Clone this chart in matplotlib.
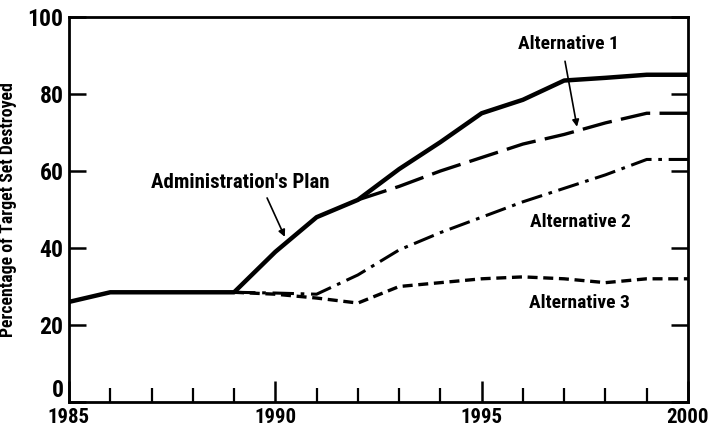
import matplotlib
matplotlib.use("Agg")
import matplotlib.pyplot as plt

years_admin = [1985, 1986, 1987, 1988, 1989, 1990, 1991, 1992, 1993, 1994, 1995, 1996, 1997, 1998, 1999, 2000]
admin = [26, 28.5, 28.5, 28.5, 28.5, 39, 48, 52.5, 60.5, 67.5, 75, 78.5, 83.5, 84.2, 85, 85]
years_alt1 = [1992, 1993, 1994, 1995, 1996, 1997, 1998, 1999, 2000]
alt1 = [52.5, 56, 60, 63.5, 67, 69.5, 72.5, 75, 75]
years_alt2 = [1989, 1990, 1991, 1992, 1993, 1994, 1995, 1996, 1997, 1998, 1999, 2000]
alt2 = [28.5, 28.3, 28, 33, 39.5, 44, 48, 52, 55.5, 59, 63, 63]
years_alt3 = [1989, 1990, 1991, 1992, 1993, 1994, 1995, 1996, 1997, 1998, 1999, 2000]
alt3 = [28.5, 28, 27, 25.7, 30, 31, 32, 32.5, 32, 31, 32, 32]
xticks = [1985, 1990, 1995, 2000]
yticks = [0, 20, 40, 60, 80, 100]

plt.rcParams['font.family'] = ['Roboto Condensed', 'PT Sans Narrow', 'DejaVu Sans']
plt.rcParams['font.weight'] = 'bold'

fig = plt.figure(figsize=(7.14, 4.32), dpi=100)
ax = fig.add_axes([69/714, 1 - 402/432, (688-69)/714, (402-17)/432])
ax.set_xlim(1985, 2000)
ax.set_ylim(0, 100)

ax.plot(years_admin, admin, color='black', lw=3.2, solid_joinstyle='round', zorder=4)
ax.plot(years_alt1, alt1, color='black', lw=2.4, linestyle=(0, (9, 2.8)))
ax.plot(years_alt2, alt2, color='black', lw=2.2, linestyle=(0, (7, 2.2, 1.2, 2.2)))
ax.plot(years_alt3, alt3, color='black', lw=2.4, linestyle=(0, (3, 1.7)))

for s in ax.spines.values():
    s.set_linewidth(2)

ax.set_xticks(xticks)
ax.set_xticks(range(1985, 2001), minor=True)
ax.set_yticks(yticks)
ax.tick_params(axis='both', which='major', direction='in', width=1.8)
ax.tick_params(axis='x', which='major', length=15, top=False, labelsize=15, pad=4.5)
ax.tick_params(axis='x', which='minor', direction='in', length=10, width=1.6, top=False)
ax.tick_params(axis='y', which='major', length=12, right=True, labelsize=17, pad=4)
for lab in ax.get_xticklabels() + ax.get_yticklabels():
    lab.set_fontweight('bold')
ax.get_yticklabels()[0].set_verticalalignment('bottom')

ax.set_ylabel('Percentage of Target Set Destroyed', fontsize=12.8, fontweight='bold')
ax.yaxis.set_label_coords(-0.084, 0.5)

ax.text(1989.15, 57, "Administration's Plan", ha='center', va='center', fontsize=15, fontweight='bold')
ax.annotate("", xy=(1990.23, 42.9), xytext=(1989.8, 53),
            arrowprops=dict(arrowstyle='-|>', color='black', lw=1.2, shrinkA=0, shrinkB=0,
                            mutation_scale=10))
ax.text(1997.1, 93, "Alternative 1", ha='center', va='center', fontsize=14, fontweight='bold')
ax.annotate("", xy=(1997.31, 71.5), xytext=(1997.02, 88.5),
            arrowprops=dict(arrowstyle='-|>', color='black', lw=1.2, shrinkA=0, shrinkB=0,
                            mutation_scale=10))
ax.text(1997.38, 46.7, "Alternative 2", ha='center', va='center', fontsize=14, fontweight='bold')
ax.text(1997.38, 25.7, "Alternative 3", ha='center', va='center', fontsize=14, fontweight='bold')

fig.savefig('out.png', dpi=100)
